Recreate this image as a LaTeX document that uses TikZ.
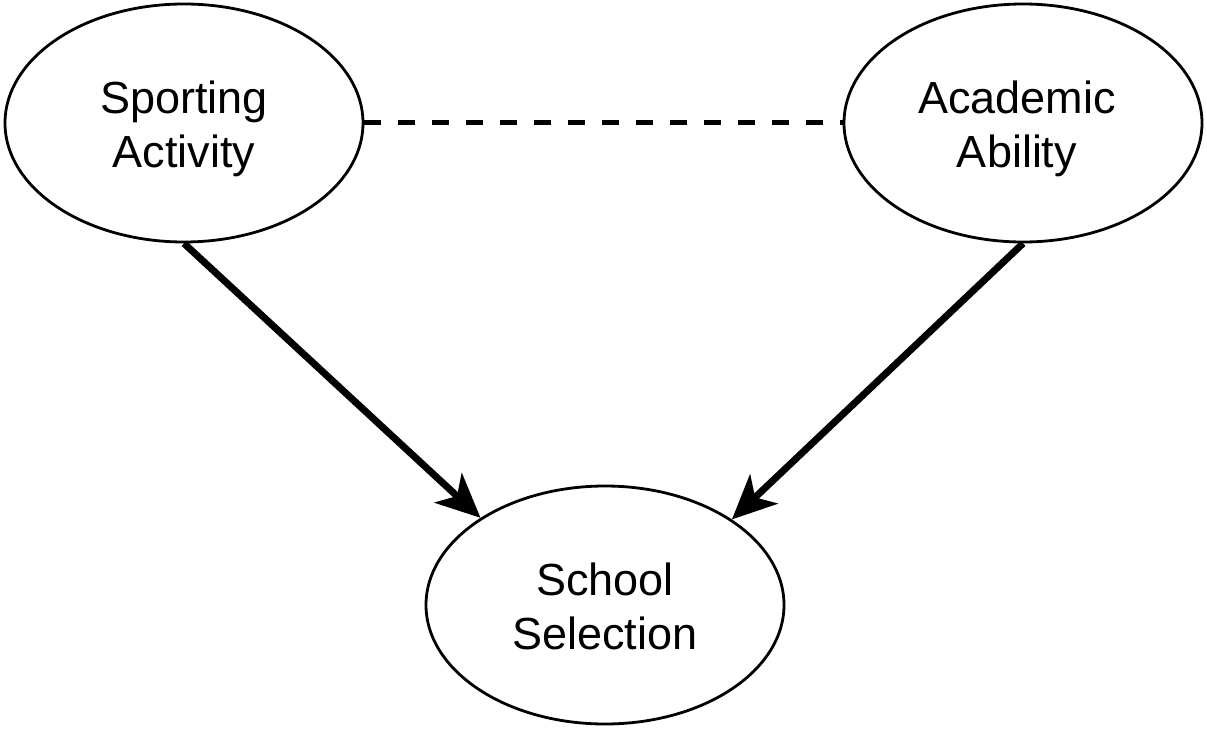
\documentclass[tikz,border=0pt]{standalone}
\usepackage{fontspec}
\setmainfont{Liberation Sans}
\usetikzlibrary{shapes.geometric,arrows.meta}
\begin{document}
\begin{tikzpicture}[x=1pt,y=-1pt,
  var/.style={ellipse,draw,line width=2.8pt,minimum width=358pt,minimum height=238pt,inner sep=0pt},
  lbl/.style={inner sep=0pt,align=center,font=\fontsize{45}{54}\selectfont},
  causal/.style={line width=7pt,-{Stealth[length=44pt,width=40pt,inset=12pt]}},
  assoc/.style={line width=5pt,dash pattern=on 17pt off 17pt}]
\useasboundingbox (0,0) rectangle (1207,738);
\node[var] (sa) at (184,123) {};
\node[var] (aa) at (1023,123) {};
\node[var] (ss) at (605,605) {};
\node[lbl] (saT) at (184,129) {Sporting\\Activity};
\node[lbl] (aaT) at (1017,129) {Academic\\Ability};
\node[lbl] (ssT) at (605,606) {School\\Selection};
\draw[assoc] (sa.east) -- (aa.west);
\draw[causal] (sa.south) -- (ss.145.7);
\draw[causal] (aa.south) -- (ss.34.7);
\end{tikzpicture}
\end{document}
